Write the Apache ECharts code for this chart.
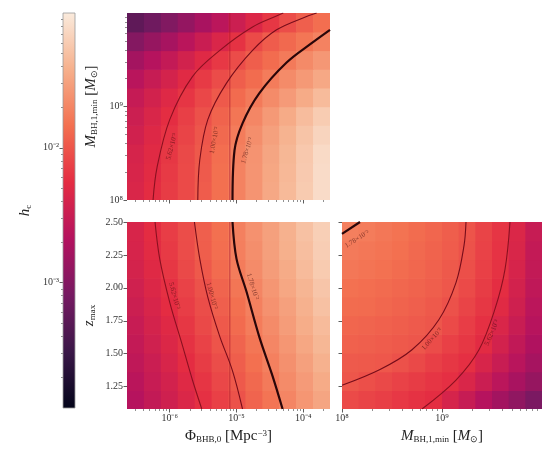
<!DOCTYPE html>
<html><head><meta charset="utf-8">
<script src="https://cdn.jsdelivr.net/npm/echarts@6/dist/echarts.min.js"></script>
<style>html,body{margin:0;padding:0;background:#fff}#c{width:544px;height:454px}</style>
</head><body><div id="c"></div>
<script>
// ---- axis ranges (log10 for Φ, M and h_c) ----
const phiRange = [-6.64, -3.6];
const massRange = [8.0, 10.0];
const zRange = [1.08, 2.5];
const hcRange = [-3.93, -1.0];
const phiTicks = [-6, -5, -4];
const massTicks = [8, 9];
const zTicks = [1.25, 1.5, 1.75, 2.0, 2.25, 2.5];
const hcTicks = [-3, -2];
const contourLabels = ['5.62×10⁻³', '1.00×10⁻²', '1.78×10⁻²'];
const fiducialLogPhi = -5.1;

// ---- log10 h_c grids, rows from bottom to top ----
const heatPhiMass = [
  [-2.35,-2.26,-2.16,-2.07,-1.96,-1.84,-1.72,-1.60,-1.47,-1.35,-1.23,-1.11],
  [-2.37,-2.27,-2.17,-2.07,-1.97,-1.84,-1.72,-1.60,-1.48,-1.36,-1.24,-1.11],
  [-2.39,-2.29,-2.19,-2.08,-1.98,-1.85,-1.73,-1.61,-1.49,-1.37,-1.25,-1.12],
  [-2.43,-2.32,-2.21,-2.11,-2.00,-1.88,-1.76,-1.64,-1.52,-1.40,-1.28,-1.16],
  [-2.47,-2.36,-2.25,-2.14,-2.03,-1.92,-1.80,-1.69,-1.57,-1.45,-1.33,-1.22],
  [-2.53,-2.42,-2.31,-2.20,-2.09,-1.98,-1.87,-1.77,-1.66,-1.56,-1.45,-1.34],
  [-2.63,-2.52,-2.40,-2.29,-2.17,-2.06,-1.95,-1.86,-1.76,-1.66,-1.57,-1.47],
  [-2.78,-2.66,-2.54,-2.42,-2.30,-2.18,-2.06,-1.95,-1.86,-1.77,-1.67,-1.58],
  [-3.00,-2.88,-2.76,-2.62,-2.49,-2.35,-2.22,-2.07,-1.96,-1.88,-1.80,-1.72],
  [-3.25,-3.14,-3.02,-2.89,-2.75,-2.61,-2.47,-2.33,-2.19,-2.05,-1.94,-1.85]
];
const heatPhiZ = [
  [-2.66,-2.55,-2.45,-2.34,-2.23,-2.13,-2.02,-1.91,-1.81,-1.70,-1.59,-1.49],
  [-2.62,-2.51,-2.41,-2.30,-2.20,-2.09,-1.98,-1.88,-1.77,-1.66,-1.56,-1.45],
  [-2.58,-2.48,-2.37,-2.26,-2.16,-2.05,-1.95,-1.84,-1.73,-1.63,-1.52,-1.41],
  [-2.54,-2.44,-2.33,-2.22,-2.12,-2.01,-1.91,-1.80,-1.69,-1.59,-1.48,-1.37],
  [-2.51,-2.40,-2.30,-2.19,-2.08,-1.98,-1.87,-1.76,-1.66,-1.55,-1.44,-1.34],
  [-2.47,-2.37,-2.26,-2.15,-2.05,-1.94,-1.84,-1.73,-1.62,-1.52,-1.41,-1.30],
  [-2.44,-2.33,-2.23,-2.12,-2.02,-1.91,-1.80,-1.70,-1.59,-1.48,-1.38,-1.27],
  [-2.40,-2.30,-2.19,-2.08,-1.98,-1.87,-1.76,-1.66,-1.55,-1.45,-1.34,-1.23],
  [-2.38,-2.27,-2.17,-2.06,-1.95,-1.85,-1.74,-1.64,-1.53,-1.42,-1.32,-1.21],
  [-2.37,-2.26,-2.15,-2.05,-1.94,-1.84,-1.73,-1.62,-1.52,-1.41,-1.30,-1.20]
];
const heatMassZ = [
  [-2.07,-2.11,-2.14,-2.18,-2.22,-2.25,-2.39,-2.52,-2.66,-2.79,-2.92,-3.06],
  [-2.00,-2.04,-2.08,-2.12,-2.16,-2.20,-2.24,-2.35,-2.48,-2.61,-2.75,-2.88],
  [-1.97,-1.98,-1.99,-2.03,-2.08,-2.14,-2.19,-2.24,-2.37,-2.50,-2.63,-2.77],
  [-1.93,-1.94,-1.96,-1.98,-2.00,-2.06,-2.13,-2.19,-2.27,-2.41,-2.56,-2.70],
  [-1.90,-1.91,-1.93,-1.95,-1.97,-2.00,-2.07,-2.15,-2.23,-2.35,-2.50,-2.65],
  [-1.86,-1.87,-1.89,-1.92,-1.94,-1.98,-2.03,-2.11,-2.19,-2.29,-2.45,-2.61],
  [-1.83,-1.85,-1.87,-1.89,-1.92,-1.95,-1.99,-2.07,-2.16,-2.25,-2.41,-2.58],
  [-1.79,-1.81,-1.83,-1.86,-1.89,-1.93,-1.98,-2.04,-2.13,-2.22,-2.38,-2.55],
  [-1.77,-1.79,-1.81,-1.84,-1.88,-1.92,-1.96,-2.02,-2.12,-2.21,-2.36,-2.54],
  [-1.74,-1.76,-1.79,-1.82,-1.86,-1.90,-1.95,-2.01,-2.11,-2.20,-2.34,-2.52]
];

// ---- contour lines (outer, middle, thick) ----
const contourPhiMass = [
  [[-6.25,8.0],[-6.19,8.35],[-6.0,8.86],[-5.66,9.32],[-5.25,9.6],[-4.76,9.85],[-4.36,9.98],[-4.3,10.0]],
  [[-5.58,8.0],[-5.55,8.43],[-5.43,8.86],[-5.15,9.25],[-4.76,9.6],[-4.40,9.82],[-3.96,9.96],[-3.8,10.0]],
  [[-5.06,8.0],[-5.03,8.53],[-4.91,8.82],[-4.66,9.14],[-4.25,9.47],[-3.87,9.68],[-3.6,9.82]]
];
const contourPhiZ = [
  [[-6.22,2.5],[-6.15,2.22],[-6.0,1.89],[-5.82,1.58],[-5.66,1.30],[-5.52,1.08]],
  [[-5.63,2.5],[-5.55,2.22],[-5.43,1.93],[-5.25,1.63],[-5.06,1.37],[-4.91,1.08]],
  [[-5.06,2.5],[-5.0,2.22],[-4.85,1.97],[-4.66,1.63],[-4.46,1.33],[-4.31,1.08]]
];
const contourMassZ = [
  [[8.80,1.08],[9.14,1.30],[9.37,1.53],[9.53,1.84],[9.63,2.14],[9.68,2.5]],
  [[8.0,1.26],[8.38,1.38],[8.70,1.53],[8.97,1.76],[9.14,2.04],[9.22,2.32],[9.24,2.5]],
  [[8.0,2.41],[8.18,2.5]]
];
// contour label anchors [x, y, levelIndex]
const labelPhiMass = [[-5.97,8.57,0],[-5.33,8.64,1],[-4.84,8.53,2]];
const labelPhiZ = [[-5.93,1.94,0],[-5.37,1.94,1],[-4.76,2.01,2]];
const labelMassZ = [[9.50,1.66,0],[8.90,1.61,1],[8.15,2.37,2]];

// ---- styling ----
const rocket = ['#03051a','#3a1748','#761a62','#b4125f','#e42c42','#f37050','#f6b08c','#faebdd'];
const serif = 'Liberation Serif';
const supMap = {'-':'⁻','0':'⁰','1':'¹','2':'²','3':'³','4':'⁴','5':'⁵','6':'⁶','7':'⁷','8':'⁸','9':'⁹'};
const pow10 = v => '10' + String(Math.round(v)).split('').map(c => supMap[c]).join('');
function minorTicks(r) {
  const out = [];
  for (let n = Math.floor(r[0]); n < r[1]; n++)
    for (let k = 2; k <= 9; k++) { const v = n + Math.log10(k); if (v > r[0] && v < r[1]) out.push(v); }
  return out;
}
function heatData(g, xr, yr) {
  const nx = g[0].length, ny = g.length, dx = (xr[1]-xr[0])/nx, dy = (yr[1]-yr[0])/ny, d = [];
  for (let j = 0; j < ny; j++) for (let i = 0; i < nx; i++) d.push([xr[0]+dx*(i+0.5), yr[0]+dy*(j+0.5), g[j][i]]);
  return {data: d, dx, dy};
}
function heatSeries(g, xr, yr, xi, yi) {
  const h = heatData(g, xr, yr);
  return {
    type: 'custom', xAxisIndex: xi, yAxisIndex: yi, clip: true, silent: true,
    encode: {x: 0, y: 1}, data: h.data,
    renderItem: (p, api) => {
      const x = api.value(0), y = api.value(1);
      const a = api.coord([x - h.dx/2, y + h.dy/2]), b = api.coord([x + h.dx/2, y - h.dy/2]);
      return {type: 'rect', shape: {x: a[0], y: a[1], width: b[0]-a[0]+0.7, height: b[1]-a[1]+0.7},
              style: {fill: api.visual('color')}};
    }
  };
}
const lineStyles = [
  {color: '#8a1020', width: 1.1},
  {color: '#760c1a', width: 1.1},
  {color: '#2a0609', width: 2.2}
];
function contourSeries(lines, xi, yi) {
  return lines.map((pts, k) => ({
    type: 'line', xAxisIndex: xi, yAxisIndex: yi, data: pts, showSymbol: false, smooth: 0.35,
    lineStyle: lineStyles[k], silent: true, clip: true, z: 5
  }));
}
function labelSeries(anchors, rots, xi, yi) {
  return {
    type: 'scatter', xAxisIndex: xi, yAxisIndex: yi, symbolSize: 0.1, silent: true, z: 6,
    itemStyle: {color: 'transparent'},
    data: anchors.map((a, k) => ({value: [a[0], a[1]], label: {
      show: true, position: 'inside', rotate: rots[k], formatter: contourLabels[a[2]],
      fontFamily: serif, fontSize: 7, color: 'rgba(60,10,10,0.75)'}}))
  };
}
const tickLabel = {fontFamily: serif, fontSize: 10, color: '#333'};
const rich = {
  i: {fontFamily: serif, fontStyle: 'italic', fontSize: 15, color: '#222'},
  r: {fontFamily: serif, fontSize: 15, color: '#222'},
  s: {fontFamily: serif, fontSize: 9, color: '#222', verticalAlign: 'bottom', padding: [6,0,0,0]},
  p: {fontFamily: serif, fontSize: 9, color: '#222', verticalAlign: 'top', padding: [0,0,6,0]}
};
const massName = '{i|M}{s|BH,1,min}{r| [}{i|M}{s|⊙}{r|]}';
function mainAxis(grid, range, pos, ticks, labels, fmt, name, gap, rot) {
  return {
    type: 'value', gridIndex: grid, min: range[0], max: range[1], position: pos,
    axisLine: {show: false, onZero: false}, splitLine: {show: false},
    axisTick: {show: true, length: 3.5, customValues: ticks, lineStyle: {color: '#333', width: 0.8}},
    axisLabel: labels ? Object.assign({show: true, customValues: ticks, formatter: fmt, margin: 4}, tickLabel) : {show: false},
    name: name || '', nameLocation: 'middle', nameGap: gap || 0, nameRotate: rot,
    nameTextStyle: {rich: rich}
  };
}
function minorAxis(grid, range, pos) {
  return {
    type: 'value', gridIndex: grid, min: range[0], max: range[1], position: pos,
    axisLine: {show: false, onZero: false}, splitLine: {show: false}, axisLabel: {show: false},
    axisTick: {show: true, length: 2, customValues: minorTicks(range), lineStyle: {color: '#444', width: 0.6}}
  };
}

const option = {
  animation: false,
  backgroundColor: '#fff',
  grid: [
    {left: 127, top: 13, width: 203, height: 187},
    {left: 127, top: 222, width: 203, height: 187},
    {left: 342, top: 222, width: 200, height: 187},
    {left: 63, top: 13, width: 12, height: 395}
  ],
  xAxis: [
    mainAxis(0, phiRange, 'bottom', phiTicks, false),
    mainAxis(1, phiRange, 'bottom', phiTicks, true, pow10, '{r|Φ}{s|BHB,0}{r| [Mpc}{p|−3}{r|]}', 20),
    mainAxis(2, massRange, 'bottom', massTicks, true, pow10, massName, 20),
    {type: 'value', gridIndex: 3, min: 0, max: 1, show: false},
    minorAxis(0, phiRange, 'bottom'),
    minorAxis(1, phiRange, 'bottom'),
    minorAxis(2, massRange, 'bottom')
  ],
  yAxis: [
    mainAxis(0, massRange, 'left', massTicks, true, pow10, massName, 28, 90),
    mainAxis(1, zRange, 'left', zTicks, true, v => v.toFixed(2), '{i|z}{s|max}', 30, 90),
    mainAxis(2, zRange, 'left', zTicks, false),
    mainAxis(3, hcRange, 'left', hcTicks, true, pow10, '{i|h}{s|c}', 30, 90),
    minorAxis(0, massRange, 'left'),
    minorAxis(3, hcRange, 'left')
  ],
  visualMap: {
    type: 'continuous', show: false, min: hcRange[0], max: hcRange[1], dimension: 2,
    seriesIndex: [0, 1, 2], inRange: {color: rocket}
  },
  series: [
    heatSeries(heatPhiMass, phiRange, massRange, 0, 0),
    heatSeries(heatPhiZ, phiRange, zRange, 1, 1),
    heatSeries(heatMassZ, massRange, zRange, 2, 2),
    {
      type: 'custom', xAxisIndex: 3, yAxisIndex: 3, silent: true, data: [[0, hcRange[0]]],
      renderItem: (p, api) => {
        const a = api.coord([0, hcRange[1]]), b = api.coord([1, hcRange[0]]);
        return {type: 'rect', shape: {x: a[0], y: a[1], width: b[0]-a[0], height: b[1]-a[1]},
          style: {fill: new echarts.graphic.LinearGradient(0, 1, 0, 0,
            rocket.map((c, k) => ({offset: k/(rocket.length-1), color: c}))),
            stroke: '#999', lineWidth: 0.8}};
      }
    },
    {type: 'line', xAxisIndex: 0, yAxisIndex: 0, data: [[fiducialLogPhi, massRange[0]], [fiducialLogPhi, massRange[1]]],
     showSymbol: false, silent: true, lineStyle: {color: '#a8122c', width: 0.8, opacity: 0.8}, z: 4},
    {type: 'line', xAxisIndex: 1, yAxisIndex: 1, data: [[fiducialLogPhi, zRange[0]], [fiducialLogPhi, zRange[1]]],
     showSymbol: false, silent: true, lineStyle: {color: '#a8122c', width: 0.8, opacity: 0.8}, z: 4},
    ...contourSeries(contourPhiMass, 0, 0),
    ...contourSeries(contourPhiZ, 1, 1),
    ...contourSeries(contourMassZ, 2, 2),
    labelSeries(labelPhiMass, [75, 79, 73], 0, 0),
    labelSeries(labelPhiZ, [-75, -75, -73], 1, 1),
    labelSeries(labelMassZ, [67, 48, 32], 2, 2)
  ]
};
echarts.init(document.getElementById('c')).setOption(option);
</script></body></html>
